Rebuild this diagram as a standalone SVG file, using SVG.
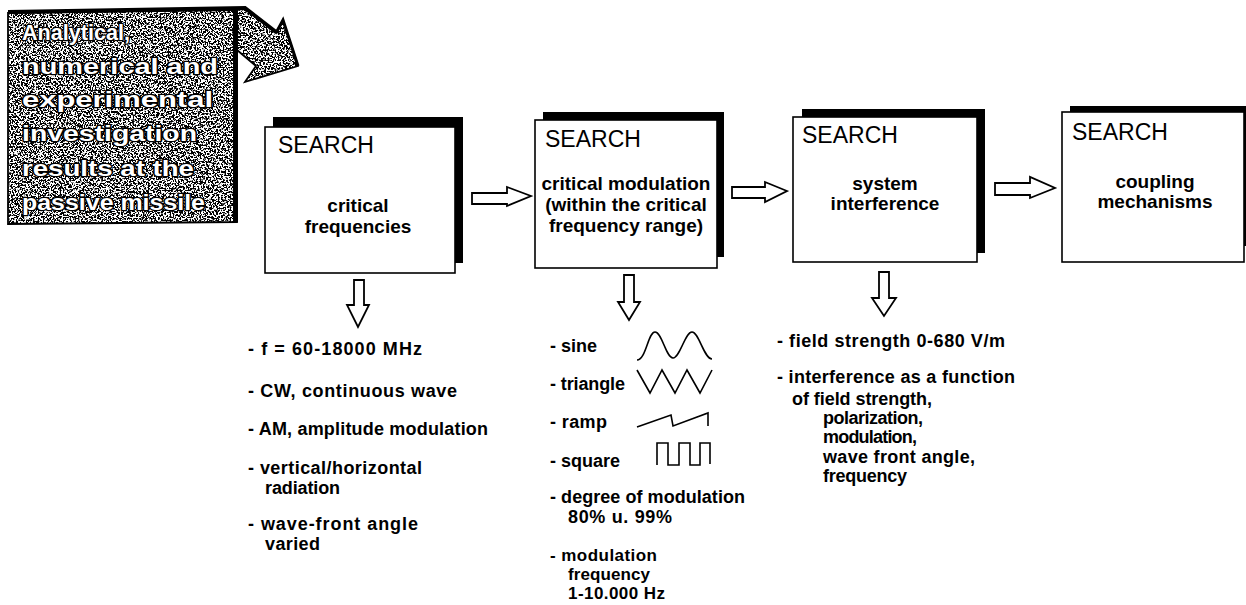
<svg xmlns="http://www.w3.org/2000/svg" width="1246" height="605" viewBox="0 0 1246 605">
<defs>
<style>
.t{font-family:"Liberation Sans",Arial,sans-serif;fill:#000}
.hd{font-size:23px}
.bx{font-size:19px;font-weight:bold;text-anchor:middle}
.ls{font-size:18px;font-weight:bold}
.sm{font-size:17px}
.box{fill:#fff;stroke:#000;stroke-width:1.6}
.sh{fill:#000}
.arr{fill:#fff;stroke:#000;stroke-width:1.8;stroke-linejoin:miter}
.wave{fill:none;stroke:#000;stroke-width:1.6}
.lt{font-family:"Liberation Sans",Arial,sans-serif;font-size:22px;font-weight:bold;fill:#fff;stroke:#000;stroke-width:2.6;paint-order:stroke;stroke-linejoin:round}
.edge{fill:none;stroke:#000}
</style>
<filter id="grain" color-interpolation-filters="sRGB">
<feTurbulence type="fractalNoise" baseFrequency="0.6" numOctaves="3" seed="7" result="n"/>
<feColorMatrix in="n" type="matrix" values="0 0 0 0 0  0 0 0 0 0  0 0 0 0 0  -16 0 0 0 8.5" result="blk"/>
<feFlood flood-color="#fff" result="w"/>
<feMerge result="m"><feMergeNode in="w"/><feMergeNode in="blk"/></feMerge>
<feComposite in="m" in2="SourceAlpha" operator="in"/>
</filter>
</defs>
<rect width="1246" height="605" fill="#fff"/>

<g id="intro">
<path d="M8,13 L236,10 L245,8 L276,33 L283,20 L298,66 L245,82 L256,66 L237,50 L237,222 L8,224 Z" fill="#000" filter="url(#grain)"/>
<path class="edge" stroke-width="1.8" d="M8,13 L236,10 L245,8 L276,33 L283,20 L298,66 L245,82 L256,66 L237,50 L237,222 L8,224 Z"/>
<path class="edge" stroke-width="4" d="M8,12 L245,8 L276,32"/>
<path class="edge" stroke-width="3" d="M276,33 L283,20 L298,66"/>
<path class="edge" stroke-width="5" d="M235.5,10 L235.5,222"/>
<text class="lt" x="22" y="40" textLength="108" lengthAdjust="spacingAndGlyphs">Analytical,</text>
<text class="lt" x="22" y="74" textLength="196" lengthAdjust="spacingAndGlyphs">numerical and</text>
<text class="lt" x="22" y="107" textLength="191" lengthAdjust="spacingAndGlyphs">experimental</text>
<text class="lt" x="22" y="141" textLength="175" lengthAdjust="spacingAndGlyphs">investigation</text>
<text class="lt" x="22" y="176" textLength="172" lengthAdjust="spacingAndGlyphs">results at the</text>
<text class="lt" x="22" y="210" textLength="183" lengthAdjust="spacingAndGlyphs">passive missile</text>
</g>

<g id="box1">
<rect class="sh" x="273" y="117" width="190" height="146"/>
<rect class="box" x="265" y="127" width="190" height="146"/>
<text class="t hd" x="278" y="153">SEARCH</text>
<text class="t bx" x="358" y="212">critical</text>
<text class="t bx" x="358" y="233">frequencies</text>
</g>

<g id="box2">
<rect class="sh" x="543" y="112" width="181" height="145"/>
<rect class="box" x="535" y="120" width="182" height="148"/>
<text class="t hd" x="545" y="147">SEARCH</text>
<text class="t bx" x="626" y="190">critical modulation</text>
<text class="t bx" x="626" y="211">(within the critical</text>
<text class="t bx" x="626" y="232">frequency range)</text>
</g>

<g id="box3">
<rect class="sh" x="802" y="109" width="183" height="144"/>
<rect class="box" x="793" y="117" width="184" height="145"/>
<text class="t hd" x="802" y="143">SEARCH</text>
<text class="t bx" x="885" y="190">system</text>
<text class="t bx" x="885" y="210">interference</text>
</g>

<g id="box4">
<rect class="sh" x="1070" y="106" width="200" height="140"/>
<rect class="box" x="1062" y="112" width="182" height="150"/>
<text class="t hd" x="1072" y="140">SEARCH</text>
<text class="t bx" x="1155" y="188">coupling</text>
<text class="t bx" x="1155" y="208">mechanisms</text>
</g>

<g id="connectors">
<polygon class="arr" points="472,193 507,193 507,187 531,196 507,206 507,204 472,204"/>
<polygon class="arr" points="732,187 765,187 765,182 787,191 765,202 765,198 732,198"/>
<polygon class="arr" points="995,183 1030,183 1030,177 1055,188 1030,198 1030,195 995,195"/>
<polygon class="arr" points="354,280 364,280 364,305 369,305 358,327 347,305 354,305"/>
<polygon class="arr" points="624,275 634,275 634,302 640,302 629,320 618,302 624,302"/>
<polygon class="arr" points="879,272 889,272 889,298 896,298 884,316 872,298 879,298"/>
</g>

<g id="list1">
<text class="t ls" x="248" y="355" textLength="174">- f = 60-18000 MHz</text>
<text class="t ls" x="248" y="397" textLength="209">- CW, continuous wave</text>
<text class="t ls" x="248" y="435" textLength="240">- AM, amplitude modulation</text>
<text class="t ls" x="248" y="474" textLength="174">- vertical/horizontal</text>
<text class="t ls" x="265" y="494" textLength="75">radiation</text>
<text class="t ls" x="248" y="530" textLength="170">- wave-front angle</text>
<text class="t ls" x="265" y="550" textLength="55">varied</text>
</g>

<g id="list2">
<text class="t ls" x="550" y="352">- sine</text>
<path class="wave" d="M637,360 C646,360 648,332 655,332 C662,332 666,358 673,358 C680,358 685,332 692,332 C699,332 704,359 712,359"/>
<text class="t ls" x="550" y="390" textLength="75">- triangle</text>
<path class="wave" d="M637,370 L650,393 L662,370 L675,393 L687,370 L700,393 L712,370"/>
<text class="t ls" x="550" y="428" textLength="57">- ramp</text>
<path class="wave" d="M637,427 L671,415 L673,426 L708,413 L708,426"/>
<text class="t ls" x="550" y="467" textLength="70">- square</text>
<path class="wave" d="M657,465 L657,443 L668,443 L668,465 L679,465 L679,443 L690,443 L690,465 L700,465 L700,443 L710,443 L710,464"/>
<text class="t ls" x="550" y="503" textLength="195">- degree of modulation</text>
<text class="t ls" x="568" y="523" textLength="104">80% u. 99%</text>
<text class="t ls sm" x="550" y="561" textLength="107">- modulation</text>
<text class="t ls sm" x="568" y="580" textLength="82">frequency</text>
<text class="t ls sm" x="568" y="599" textLength="97">1-10.000 Hz</text>
</g>

<g id="list3">
<text class="t ls" x="777" y="347" textLength="228">- field strength 0-680 V/m</text>
<text class="t ls" x="777" y="383" textLength="238">- interference as a function</text>
<text class="t ls" x="792" y="405" textLength="140">of field strength,</text>
<text class="t ls" x="823" y="424" textLength="100">polarization,</text>
<text class="t ls" x="823" y="443" textLength="94">modulation,</text>
<text class="t ls" x="823" y="463" textLength="152">wave front angle,</text>
<text class="t ls" x="823" y="482" textLength="84">frequency</text>
</g>
</svg>
